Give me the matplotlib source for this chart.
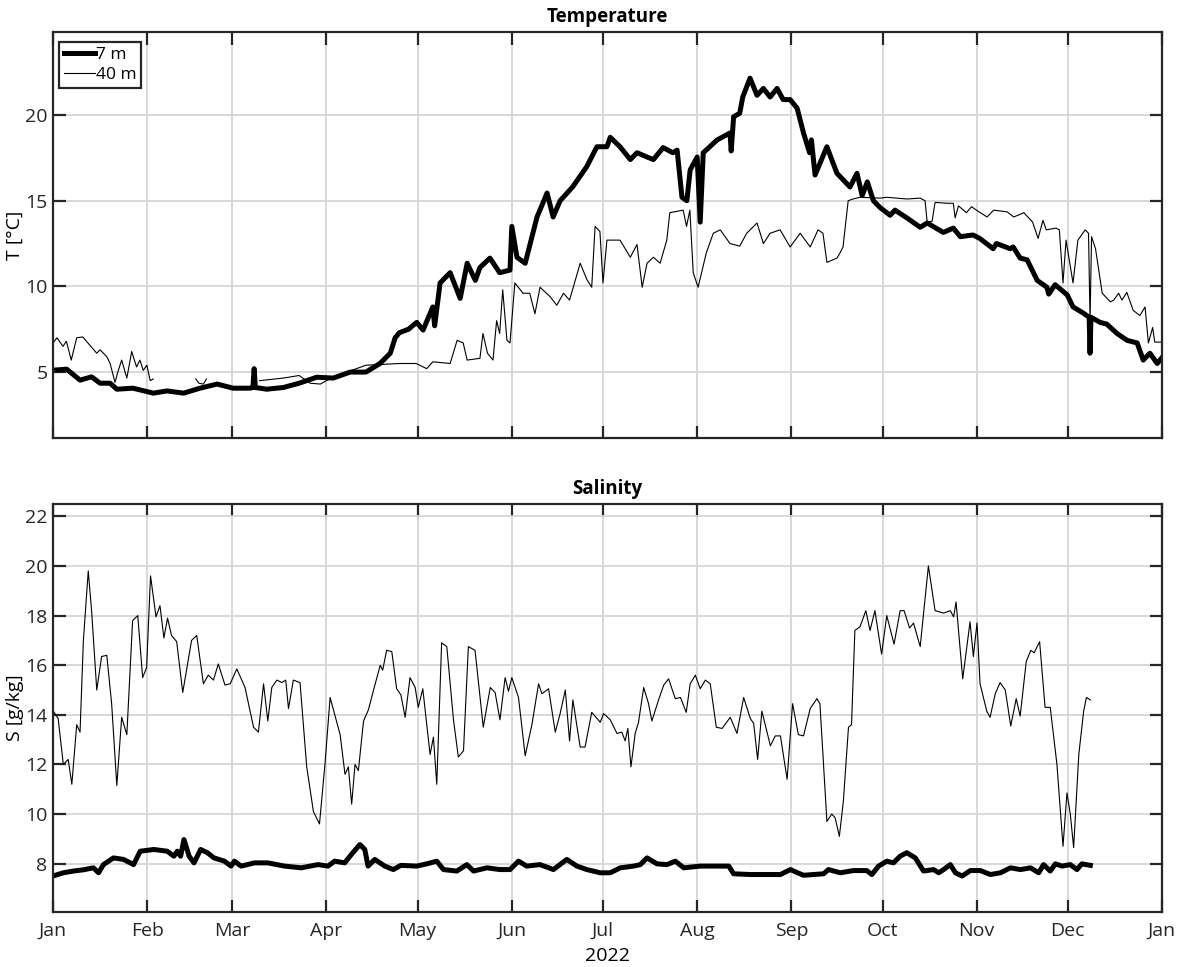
import numpy as np
import matplotlib
matplotlib.use("Agg")
import matplotlib.pyplot as plt
import matplotlib.dates as mdates

plt.rcParams['font.family'] = ['Open Sans', 'DejaVu Sans']

START = np.datetime64('2022-01-01T00:00')

# --- temperatura, 7 m (dan u godini, vrijednost) ---
t7_dan = [0, 4.5, 8.9, 12.7, 15.5, 18.8, 21, 26.3, 33, 37.5, 43, 48.4, 54, 59.3, 64.8, 65.8, 66.2, 66.6,
          70.3, 75.8, 81, 86.8, 92.2, 97.8, 103, 107.6, 111, 112.6, 114, 117, 119.7, 121.8, 125, 125.6,
          127.4, 130.7, 134, 136.3, 139, 140.5, 143.8, 147, 150.4, 151, 152.7, 155.4, 159.3, 162.6,
          164.6, 166.9, 171, 175.7, 179, 182.3, 183.4, 186.6, 190, 192.2, 195.5, 197.6, 200.8, 204,
          205.4, 207, 208.6, 209.7, 212, 213, 214, 218.6, 222.8, 223.2, 224, 226, 227, 229.4, 231.7,
          233.8, 236, 238.3, 240.3, 242.6, 244.9, 247, 249, 249.6, 250.8, 254.7, 258, 262.3, 264.6,
          266.3, 268, 270, 272.2, 275.5, 277.1, 281, 285.4, 287.7, 293, 296.3, 298.6, 302.8, 305,
          309.4, 310.5, 315, 316, 318.3, 320.6, 323.9, 327.1, 327.7, 329.8, 333.8, 335.7, 339, 341.0,
          341.3, 341.6, 344.6, 346.8, 350.2, 353.5, 356.8, 358.8, 361, 363.4, 365]
t7_val = [5.11, 5.17, 4.53, 4.72, 4.35, 4.35, 4.0, 4.06, 3.77, 3.9, 3.77, 4.06, 4.3, 4.06, 4.06, 4.1, 5.2, 4.1,
          4.0, 4.1, 4.35, 4.7, 4.65, 5.0, 5.0, 5.5, 6.1, 7.0, 7.3, 7.5, 7.9, 7.45, 8.8, 7.7,
          10.2, 10.8, 9.3, 11.35, 10.35, 11.1, 11.65, 10.8, 10.95, 13.5, 11.7, 11.35, 14.05, 15.45,
          14.05, 15.0, 15.8, 17.0, 18.15, 18.15, 18.7, 18.15, 17.4, 17.8, 17.55, 17.4, 18.1, 17.8,
          17.95, 15.2, 15.0, 16.8, 17.55, 13.75, 17.8, 18.55, 18.95, 17.9, 19.9, 20.1, 21.05, 22.15, 21.15,
          21.55, 21.05, 21.55, 20.9, 20.9, 20.4, 18.95, 17.8, 18.55, 16.5, 18.15, 16.6, 15.8, 16.6,
          15.3, 16.1, 15.0, 14.6, 14.15, 14.45, 14.0, 13.45, 13.7, 13.15, 13.4, 12.9, 13.0, 12.8,
          12.2, 12.5, 12.2, 12.3, 11.65, 11.55, 10.35, 9.95, 9.55, 10.1, 9.5, 8.8, 8.45, 8.2,
          6.1, 8.2, 7.9, 7.8, 7.25, 6.85, 6.7, 5.7, 6.1, 5.5, 5.85]

# --- temperatura, 40 m (nan = prekid u mjerenju) ---
t40_dan = [0, 1.3, 3.3, 4.4, 6, 7.8, 9.8, 12, 14.4, 15.5, 17.7, 18.8, 20.4, 21.5, 22.6, 24.3, 25.9, 27.5,
           28.6, 29.7, 30.9, 32, 33, 33.5, 47, 48, 49.5, 50.5, 51, 68, 75.8, 81, 84.6, 88, 92, 103, 114,
           119.5, 123, 125, 130.7, 133, 135, 136.3, 140.5, 141.5, 143, 144.8, 146, 147, 148, 149.4,
           150.4, 152, 154.7, 156.9, 158.6, 160.3, 163.6, 165.8, 168, 170, 173.5, 175.7, 177.3, 178.4,
           180, 181, 182.3, 186.6, 190, 192.2, 193.9, 195.5, 197.6, 199.8, 202, 203, 207.4, 208.5,
           209.6, 210.7, 212.3, 215, 217.3, 219.6, 222.8, 226, 228.3, 231.7, 233.8, 236, 239.3, 242.6,
           245.9, 249.2, 251.8, 253.4, 254.7, 258, 259, 260, 261.7, 263.3, 265.6, 272.2, 274.4, 281,
           285.4, 287.0, 287.7, 289.3, 290.3, 294.3, 296.3, 296.9, 298, 300.6, 302.3, 303.9, 307.4,
           309.6, 314, 316.2, 319.5, 322.4, 324.2, 325.8, 326.9, 330.1, 331.2, 332.4, 333.4, 335.7,
           337.3, 339.7, 340.8, 341.3, 341.8, 343.1, 345.3, 348, 349.1, 350.7, 351.8, 353.4, 355.5,
           357.7, 359.4, 360.5, 361.9, 362.6, 365]
t40_val = [6.7, 7.0, 6.5, 6.8, 5.7, 7.0, 7.05, 6.6, 6.1, 6.3, 5.9, 5.5, 4.4, 5.1, 5.7, 4.65, 6.2, 5.3,
           5.7, 5.1, 5.4, 4.5, 4.6, np.nan, 4.6, 4.35, 4.3, 4.6, np.nan, 4.5, 4.65, 4.8, 4.35, 4.3, 4.7, 5.4, 5.5,
           5.5, 5.2, 5.6, 5.5, 6.85, 6.7, 5.7, 5.8, 7.25, 6.1, 5.7, 8.0, 7.25, 9.8, 6.85,
           6.7, 10.2, 9.6, 9.6, 8.4, 9.95, 9.4, 8.9, 9.6, 9.2, 11.35, 10.4, 9.95, 13.5,
           13.2, 10.2, 12.7, 12.7, 11.7, 12.45, 9.95, 11.35, 11.7, 11.35, 12.7, 14.3, 14.45, 13.5,
           14.45, 10.8, 9.95, 11.95, 13.1, 13.3, 12.5, 12.35, 13.1, 13.7, 12.5, 13.1, 13.3, 12.3,
           13.1, 12.3, 13.3, 13.1, 11.4, 11.65, 11.95, 12.3, 15.0, 15.1, 15.2, 15.15, 15.2, 15.1,
           15.15, 15.0, 13.75, 13.8, 14.9, 14.85, 14.85, 14.0, 14.7, 14.3, 14.65, 14.45, 14.05,
           14.45, 14.35, 14.05, 14.3, 13.75, 12.8, 13.85, 13.3, 13.4, 13.3, 10.2, 12.7, 10.2,
           12.7, 13.3, 13.1, 8.0, 12.9, 12.2, 9.6, 9.1, 9.2, 9.6, 9.2, 9.65, 8.6,
           8.3, 8.8, 6.7, 7.6, 6.75, 6.75]

# --- salinitet, 7 m ---
s7_dan = [0, 3.4, 6.7, 10, 13.3, 15, 16.6, 19.9, 23.2, 26.5, 28.7, 33.2, 37.6, 39.8, 40.9, 42, 43.1, 44.8,
          46.4, 48.6, 50.8, 53, 56.4, 58.6, 59.7, 61.9, 66.3, 70.7, 76.2, 81.7, 87.2, 90.5, 92.7, 96,
          98.2, 101, 102.6, 103.7, 105.9, 109.2, 112, 114.5, 119.7, 123, 126.3, 128.5, 132.9, 136.2,
          138.4, 142.8, 147.1, 150.4, 153.2, 155.9, 160.3, 164.7, 169.1, 172.4, 175.7, 180.1, 183.4,
          186.7, 191.1, 193.3, 195.5, 198.8, 202.1, 204.8, 207.6, 213, 218.5, 222.4, 224, 229.5, 235,
          239.4, 242.7, 244.5, 247, 253.6, 255.2, 259.1, 263.4, 267.8, 269.5, 271.7, 274.4, 276.6,
          278.8, 281, 283.8, 286.5, 289.8, 291.5, 293.1, 295.3, 297, 299.2, 301.9, 305.2, 308.5,
          311.8, 315.1, 318.4, 321.7, 324.4, 326, 328.2, 329.9, 332.1, 334.8, 337, 338.6, 341.4]
s7_val = [7.5, 7.63, 7.7, 7.75, 7.83, 7.63, 7.96, 8.23, 8.17, 7.96, 8.5, 8.57, 8.5, 8.3, 8.5, 8.3, 8.97, 8.3,
          8.03, 8.57, 8.44, 8.23, 8.1, 7.9, 8.1, 7.9, 8.03, 8.03, 7.9, 7.83, 7.96, 7.9, 8.1, 8.03,
          8.37, 8.77, 8.57, 7.9, 8.17, 7.9, 7.76, 7.93, 7.9, 7.99, 8.1, 7.76, 7.7, 7.96,
          7.7, 7.83, 7.76, 7.76, 8.1, 7.9, 7.96, 7.76, 8.17, 7.9, 7.76, 7.63, 7.63,
          7.83, 7.9, 7.96, 8.23, 7.99, 7.96, 8.1, 7.83, 7.9, 7.9, 7.9, 7.59, 7.56, 7.56,
          7.56, 7.76, 7.66, 7.53, 7.59, 7.76, 7.63, 7.72, 7.72, 7.56, 7.9, 8.1, 8.03,
          8.3, 8.44, 8.23, 7.7, 7.76, 7.63, 7.76, 7.96, 7.63, 7.5, 7.72, 7.72, 7.56,
          7.63, 7.83, 7.76, 7.83, 7.63, 7.96, 7.7, 7.99, 7.9, 7.96, 7.76, 7.99, 7.93]

# --- salinitet, 40 m ---
s40_dan = [0, 1.7, 3.4, 5, 6.2, 7.8, 8.9, 10, 11.6, 12.7, 14.4, 16, 17.7, 19.3, 21, 22.6, 24.3, 26.2, 27.9,
           29.5, 30.8, 32.1, 33.9, 35.2, 36.5, 37.7, 39, 40.7, 42.7, 45.6, 47.3, 49.5, 51.1, 52.8, 54.4,
           56.6, 58.3, 60.5, 63.2, 66, 67.6, 69.3, 70.7, 72, 73.7, 75.3, 76.6, 77.5, 79.1, 81.3, 83.5,
           85.7, 87.7, 89.5, 91.2, 94.5, 96.1, 97.2, 98.3, 99.4, 100.5, 102.2, 103.8, 105.5, 107.7,
           108.5, 109.8, 111.5, 113.1, 114.5, 115.9, 117.5, 119.2, 120.2, 121.7, 124.1, 125.2, 126.3,
           127.9, 129.6, 131.8, 133.4, 135.1, 136.7, 138.9, 141.6, 143.9, 145.5, 147.1, 148.8, 149.9,
           151, 153.2, 155.4, 157.6, 159.8, 160.9, 163.1, 165.3, 166.9, 168.6, 170, 171.1, 173.5,
           175.1, 177.3, 180.1, 181.2, 183.4, 185.6, 187.2, 188.3, 189.2, 190.2, 191.6, 192.7, 194.4,
           196, 197.1, 199.3, 201, 202.6, 204.8, 206.5, 208.4, 209.7, 211.4, 213, 214.7, 216.3, 218.3,
           220.2, 222.9, 225.1, 227.3, 229.5, 230.6, 231.9, 233.3, 236.1, 237.7, 239.4, 241.6, 243.4,
           245.3, 247, 249.2, 251.4, 252.4, 254.7, 256.3, 257.4, 258.8, 260.1, 261.8, 262.8, 263.9,
           265.6, 267.5, 268.9, 270.5, 272.7, 274.4, 276.8, 278.8, 280.1, 281.9, 283.2, 285.4, 288.1,
           290.3, 293.1, 295.3, 296.4, 297.2, 299.4, 301.8, 302.9, 304.1, 305.1, 307.3, 308.4, 310.1,
           311.7, 313.4, 315.2, 317, 318.3, 320.3, 321.8, 322.9, 324.7, 326.5, 328.2, 330.4, 332.4,
           333.7, 334.8, 335.9, 337.6, 339.2, 340.1, 341.4]
s40_val = [14.17, 13.85, 12.0, 12.2, 11.2, 13.6, 13.3, 17.0, 19.8, 18.2, 15.0, 16.35, 16.4, 14.45, 11.15, 13.9,
           13.2, 17.8, 18.0, 15.5, 15.9, 19.6, 17.95, 18.4, 17.1, 17.9, 17.2, 16.95, 14.9, 17.0, 17.2,
           15.25, 15.6, 15.4, 16.05, 15.2, 15.25, 15.85, 15.1, 13.5, 13.3, 15.25, 13.75, 15.1, 15.4,
           15.3, 15.4, 14.25, 15.4, 15.3, 11.9, 10.1, 9.6, 12.0, 14.7, 13.2, 11.6, 11.9, 10.4, 12.0,
           11.75, 13.75, 14.2, 15.0, 16.0, 15.8, 16.6, 16.55, 15.05, 14.8, 13.9, 15.5, 15.1, 14.3,
           15.05, 12.4, 13.1, 11.2, 16.9, 16.75, 13.8, 12.3, 12.55, 16.75, 16.6, 13.5, 15.1, 14.9,
           13.8, 15.5, 14.95, 15.5, 14.7, 12.35, 13.6, 15.25, 14.85, 15.05, 13.3, 14.05, 15.0, 12.95,
           14.6, 12.7, 12.7, 14.1, 13.7, 14.05, 13.8, 13.25, 13.3, 12.95, 13.45, 11.9, 13.25, 13.7,
           15.1, 14.45, 13.75, 14.6, 15.2, 15.45, 14.65, 14.7, 14.1, 15.25, 15.6, 15.05, 15.4, 15.25,
           13.5, 13.45, 13.9, 13.25, 14.7, 13.85, 13.65, 12.2, 14.15, 12.75, 13.15, 13.15, 11.4,
           14.45, 13.2, 13.15, 14.25, 14.65, 14.45, 9.7, 10.0, 9.85, 9.1, 10.5, 13.5, 13.6, 17.4,
           17.55, 18.2, 17.4, 18.2, 16.45, 18.0, 16.85, 18.2, 18.2, 17.5, 17.7, 16.75, 20.0, 18.2,
           18.1, 18.2, 17.95, 18.55, 15.45, 17.75, 16.35, 17.7, 15.25, 14.15, 13.9, 14.85, 15.3,
           15.0, 13.55, 14.65, 13.95, 16.15, 16.6, 16.5, 16.95, 14.3, 14.3, 12.0, 8.7, 10.85, 10.0,
           8.65, 12.4, 14.15, 14.7, 14.6]


def u_datume(dani):
    sek = np.round(np.asarray(dani, dtype=float) * 86400).astype('int64')
    return START + sek.astype('timedelta64[s]')


def uredi_osu(ax, ylim, yticks):
    ax.set_xlim(np.datetime64('2022-01-01'), np.datetime64('2023-01-01'))
    ax.set_ylim(*ylim)
    ax.set_yticks(yticks)
    ax.xaxis.set_major_locator(mdates.MonthLocator())
    ax.xaxis.set_major_formatter(mdates.DateFormatter('%b'))
    ax.grid(True, color='#d6d6d6', linewidth=1.3)
    ax.set_axisbelow(True)
    ax.tick_params(direction='in', length=9, width=1.6, top=True, right=True,
                   labelsize=14, colors='#262626', pad=4)
    ax.tick_params(axis='x', pad=7)
    for s in ax.spines.values():
        s.set_linewidth(1.6)
        s.set_color('#262626')
    ax.yaxis.set_label_coords(-0.0265, 0.5)


fig = plt.figure(figsize=(11.83, 9.67), dpi=100)
ax1 = fig.add_axes([0.0448, 0.547, 0.9375, 0.420])
ax2 = fig.add_axes([0.0448, 0.0569, 0.9375, 0.4219])

ax1.plot(u_datume(t7_dan), t7_val, color='black', linewidth=3.6, solid_joinstyle='round', label='7 m')
ax1.plot(u_datume(t40_dan), t40_val, color='black', linewidth=0.8, label='40 m')
uredi_osu(ax1, (1.15, 24.85), [5, 10, 15, 20])
ax1.tick_params(labelbottom=False)
ax1.set_ylabel('T [°C]', fontsize=14)
ax1.set_title('Temperature', fontsize=13.5, fontweight='bold', pad=7)
leg = ax1.legend(loc='upper left', bbox_to_anchor=(0.0055, 0.975), fontsize=12.5,
                 fancybox=False, framealpha=1, edgecolor='#262626', handlelength=1.75,
                 handletextpad=0.05, borderpad=0.3, labelspacing=0.2, borderaxespad=0)
leg.get_frame().set_linewidth(1.6)

ax2.plot(u_datume(s7_dan), s7_val, color='black', linewidth=3.6, solid_joinstyle='round')
ax2.plot(u_datume(s40_dan), s40_val, color='black', linewidth=0.8)
uredi_osu(ax2, (6.05, 22.5), [8, 10, 12, 14, 16, 18, 20, 22])
ax2.set_ylabel('S [g/kg]', fontsize=14)
ax2.set_title('Salinity', fontsize=13.5, fontweight='bold', pad=7)
ax2.set_xlabel('2022', fontsize=14, labelpad=5)

fig.savefig('out.png', dpi=100)
